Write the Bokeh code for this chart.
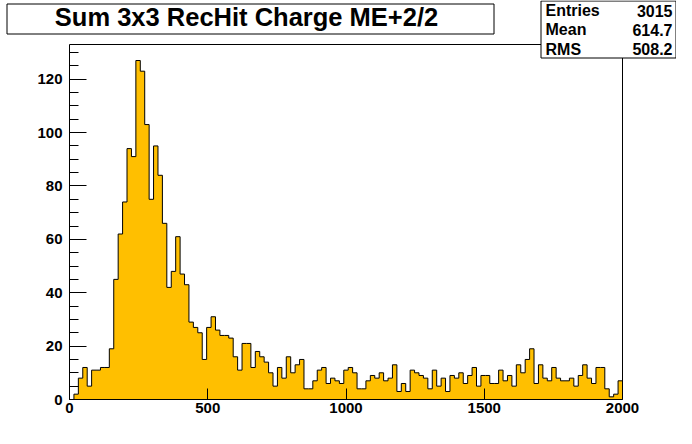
from bokeh.plotting import figure
from bokeh.models import (LinearAxis, FixedTicker, SingleIntervalTicker,
                          Range1d, GridBox)
from bokeh.core.properties import value
from bokeh.embed import file_html
from bokeh.resources import INLINE

# ---------------- data ----------------
title_text = "Sum 3x3 RecHit Charge ME+2/2"
x_min, x_max = 0, 2000
n_bins = 125
counts = [
    0, 2, 8, 12, 5, 11, 11, 12, 12, 19,
    45, 62, 74, 94, 91, 127, 123, 103, 75, 95,
    84, 66, 42, 48, 61, 47, 43, 29, 27, 25,
    15, 27, 31, 26, 24, 24, 23, 16, 11, 21,
    21, 12, 18, 16, 14, 10, 5, 12, 8, 16,
    10, 13, 15, 4, 4, 7, 11, 12, 6, 8,
    7, 6, 11, 12, 10, 4, 4, 7, 9, 8,
    10, 7, 8, 13, 3, 6, 3, 11, 10, 9,
    8, 4, 11, 5, 8, 3, 9, 8, 10, 6,
    9, 12, 5, 9, 9, 6, 6, 11, 7, 9,
    5, 13, 10, 15, 19, 6, 13, 8, 7, 12,
    8, 7, 7, 8, 5, 9, 13, 8, 6, 12,
    12, 4, 1, 2, 7,
]
x_ticks = [0, 500, 1000, 1500, 2000]
y_max = 133
y_tick_step = 20
stats_names = ["Entries", "Mean", "RMS"]
stats_values = ["3015", "614.7", "508.2"]

fill = "#ffbf00"
font = "Liberation Sans"
W, H = 676, 428

edges = [x_min + i * (x_max - x_min) / n_bins for i in range(n_bins + 1)]

# ---------------- main histogram figure ----------------
p = figure(width=W, height=H, output_backend="svg", toolbar_location=None,
           x_range=Range1d(x_min, x_max), y_range=Range1d(0, y_max),
           frame_width=553, frame_height=355,
           min_border_left=69, min_border_right=54,
           min_border_top=44, min_border_bottom=29,
           x_axis_type=None, y_axis_type=None)
p.outline_line_color = None
p.background_fill_color = "white"
p.border_fill_color = "white"
p.frame_align = False

xs, ys = [edges[0]], [0]
for i, c in enumerate(counts):
    xs += [edges[i], edges[i + 1]]
    ys += [c, c]
xs.append(edges[-1])
ys.append(0)
p.patch(xs, ys, fill_color=fill, line_color="black", line_width=1)

xaxis = LinearAxis(ticker=FixedTicker(ticks=x_ticks, minor_ticks=[]))
xaxis.major_tick_in = 11
xaxis.major_tick_out = 0
xaxis.major_label_standoff = 3
yaxis = LinearAxis(ticker=SingleIntervalTicker(interval=y_tick_step, num_minor_ticks=4))
yaxis.major_tick_in = 17
yaxis.major_tick_out = 0
yaxis.minor_tick_in = 9
yaxis.minor_tick_out = 0
yaxis.major_label_standoff = 7
for ax in (xaxis, yaxis):
    ax.axis_line_color = "black"
    ax.major_tick_line_color = "black"
    ax.major_label_text_font = font
    ax.major_label_text_font_style = "bold"
    ax.major_label_text_font_size = "15px"
    ax.major_label_text_color = "black"
xaxis.minor_tick_line_color = None
yaxis.minor_tick_line_color = "black"
p.add_layout(xaxis, "below")
p.add_layout(yaxis, "left")

for loc in ("above", "right"):
    fr = LinearAxis(ticker=FixedTicker(ticks=[], minor_ticks=[]))
    fr.axis_line_color = "black"
    fr.major_tick_line_color = None
    fr.minor_tick_line_color = None
    fr.major_label_text_font_size = "0px"
    p.add_layout(fr, loc)

# ---------------- overlay: title box and stats box (pixel space) ----------------
h = figure(width=W, height=H, output_backend="svg", toolbar_location=None,
           x_range=Range1d(0, W), y_range=Range1d(H, 0),
           frame_width=W, frame_height=H,
           min_border_left=0, min_border_right=0,
           min_border_top=0, min_border_bottom=0,
           x_axis_type=None, y_axis_type=None)
h.outline_line_color = None
h.background_fill_color = None
h.border_fill_color = None
h.frame_align = False

# title box
h.quad(left=[6.5], right=[493.5], top=[3.5], bottom=[33.5],
       fill_color="white", line_color="black", line_width=1)
h.text(x=[246], y=[16], text=[title_text], text_align="center",
       text_baseline="alphabetic", text_font=value(font),
       text_font_style="bold", text_font_size="25.5px", text_color="black")

# stats box
h.quad(left=[540.5], right=[675.5], top=[0.5], bottom=[57.5],
       fill_color="white", line_color="black", line_width=1)
row_base = [10, 29, 48.5]
h.text(x=[545] * 3, y=row_base, text=stats_names, text_align="left",
       text_baseline="alphabetic", text_font=value(font),
       text_font_style="bold", text_font_size="16px", text_color="black")
h.text(x=[672] * 3, y=row_base, text=stats_values, text_align="right",
       text_baseline="alphabetic", text_font=value(font),
       text_font_style="bold", text_font_size="16px", text_color="black")

layout = GridBox(children=[(p, 0, 0), (h, 0, 0)])

open("out.html", "w").write(file_html(layout, INLINE))
